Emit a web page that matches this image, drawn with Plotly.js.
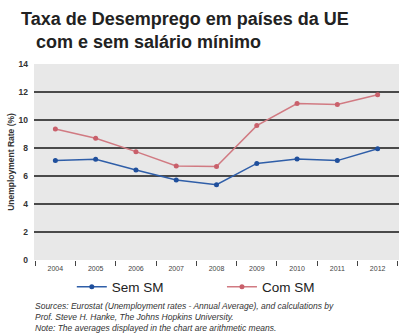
<!DOCTYPE html>
<html><head><meta charset="utf-8">
<script src="https://cdn.plot.ly/plotly-3.0.1.min.js"></script>
<style>html,body{margin:0;padding:0;background:#fff}#c{width:408px;height:336px}</style>
</head><body><div id="c"></div>
<script>
const years = ['2004','2005','2006','2007','2008','2009','2010','2011','2012'];
const semSM = [7.1, 7.19, 6.43, 5.71, 5.38, 6.9, 7.21, 7.1, 7.95];
const comSM = [9.36, 8.7, 7.74, 6.71, 6.67, 9.6, 11.17, 11.1, 11.8];
const yTicks = [0, 2, 4, 6, 8, 10, 12, 14];

const traces = [
  {x: years, y: semSM, name: 'Sem SM', type: 'scatter', mode: 'lines+markers', legend: 'legend', showlegend: true,
   line: {color: '#2f5ea8', width: 1.5}, marker: {color: '#1f4f9c', size: 5}},
  {x: years, y: comSM, name: 'Com SM', type: 'scatter', mode: 'lines+markers', legend: 'legend2', showlegend: true,
   line: {color: '#d17a82', width: 1.5}, marker: {color: '#c9606b', size: 5}}
];

const legFont = {size: 13.5, color: '#222', family: 'Liberation Sans, Arial, sans-serif', weight: 500};
const layout = {
  width: 408, height: 336,
  margin: {l: 34, r: 9, t: 64, b: 76, autoexpand: false},
  paper_bgcolor: '#ffffff', plot_bgcolor: '#e8e8e8',
  font: {family: 'Liberation Sans, Arial, sans-serif', color: '#333'},
  xaxis: {type: 'category', tickson: 'boundaries', ticks: 'outside', ticklen: 5, tickcolor: '#444', tickwidth: 1,
          showgrid: false, showline: false, zeroline: false, ticklabelstandoff: 3,
          tickfont: {size: 7, color: '#444'}},
  yaxis: {range: [0, 14], tickvals: yTicks, ticktext: yTicks.map(String),
          showgrid: true, gridcolor: '#4a4a4a', gridwidth: 2, zeroline: false, showline: false,
          tickfont: {size: 8.5, color: '#333', weight: 600}, ticks: '', ticklabelstandoff: 5,
          title: {text: 'Unemployment Rate (%)', font: {size: 8.5, color: '#333', weight: 600}, standoff: 2}},
  legend: {orientation: 'h', xref: 'container', yref: 'container', x: 0.176, xanchor: 'left', y: 0.146, yanchor: 'middle',
           bgcolor: 'rgba(0,0,0,0)', font: legFont, visible: true},
  legend2: {orientation: 'h', xref: 'container', yref: 'container', x: 0.544, xanchor: 'left', y: 0.146, yanchor: 'middle',
           bgcolor: 'rgba(0,0,0,0)', font: legFont, visible: true},
  annotations: [
    {text: '<b>Taxa de Desemprego em países da UE</b>', xref: 'paper', yref: 'paper', x: -0.04, y: 1, xanchor: 'left', yanchor: 'bottom',
     showarrow: false, font: {size: 18, color: '#222'}, yshift: 33},
    {text: '<b>com e sem salário mínimo</b>', xref: 'paper', yref: 'paper', x: 0.0, y: 1, xanchor: 'left', yanchor: 'bottom',
     showarrow: false, font: {size: 18, color: '#222'}, yshift: 10},
    {text: '<i>Sources: Eurostat (Unemployment rates - Annual Average), and calculations by<br>Prof. Steve H. Hanke, The Johns Hopkins University.<br>Note: The averages displayed in the chart are arithmetic means.</i>',
     xref: 'paper', yref: 'paper', x: -0.003, y: 0, xanchor: 'left', yanchor: 'top', align: 'left',
     showarrow: false, font: {size: 8.5, color: '#333'}, yshift: -39}
  ]
};
Plotly.newPlot('c', traces, layout, {displayModeBar: false, staticPlot: true});
</script></body></html>
